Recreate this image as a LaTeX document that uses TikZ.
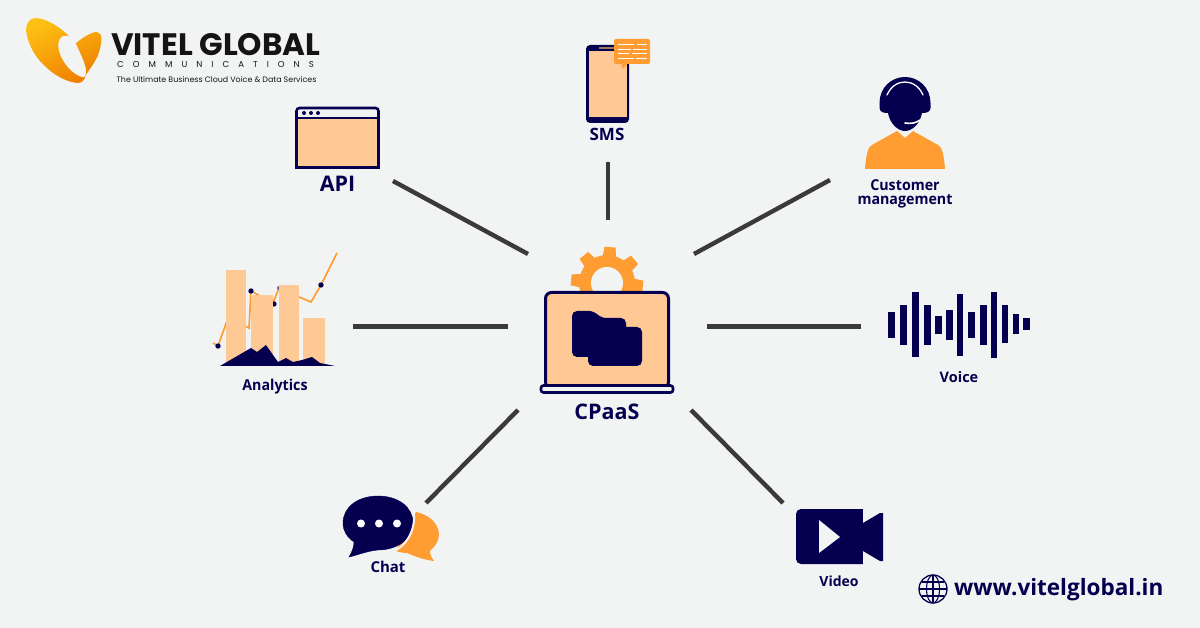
\documentclass[tikz,border=0pt]{standalone}
\usepackage{fontspec}
\setmainfont{Open Sans}
\newfontfamily\narrowfont[FakeStretch=0.95]{Open Sans}
\newfontfamily\logofont{Poppins}
\newfontfamily\logospaced[LetterSpace=105]{Poppins}
\definecolor{navy}{HTML}{04004F}
\definecolor{peach}{HTML}{FEC994}
\definecolor{amber}{HTML}{FF9D33}
\definecolor{paper}{HTML}{F2F4F4}
\definecolor{wire}{HTML}{3A3A3A}
\definecolor{logoa}{HTML}{FDC114}
\definecolor{logob}{HTML}{EF7F00}
\tikzset{
    edgen/.style = {line width=4.4pt,wire},
    mylabel/.style = {inner sep=0pt,align=center,text=navy,font=\bfseries\fontsize{15}{15}\selectfont},
    mylabelb/.style = {mylabel,font=\bfseries\fontsize{21.5}{21.5}\selectfont},
    mylabeln/.style = {mylabel,font=\narrowfont\bfseries\fontsize{15}{15}\selectfont},
    mylogo/.style = {inner sep=0pt,text=black!92},
    peachbox/.style = {fill=peach},
    navybox/.style = {draw=navy,line width=2.6pt},
}

\begin{document}
\begin{tikzpicture}[x=1pt,y=-1pt]
\fill[paper] (0,0) rectangle (1200,628);
\useasboundingbox (0,0) rectangle (1200,628);
%
% logo
\path[left color=logoa,right color=logob,shading angle=25]
  (26,30) .. controls (27,18) and (34,17) .. (42,19)
  .. controls (52,22) and (62,29) .. (70,37)
  -- (75,44) .. controls (82,38) and (91,32) .. (97,32)
  .. controls (103,33) and (102,42) .. (99,52)
  .. controls (96,62) and (90,68) .. (86,75)
  .. controls (84,81) and (82,83) .. (77,83)
  .. controls (62,81) and (50,72) .. (40,61)
  .. controls (32,52) and (27,40) .. (26,30) -- cycle;
\fill[paper] (70,36) -- (76,44) .. controls (81,55) and (86,65) .. (86,71)
  .. controls (86,76) and (85,78) .. (82,77)
  .. controls (72,74) and (64,64) .. (60,54)
  .. controls (57,46) and (58,38) .. (63,36) -- cycle;
\node[mylogo,anchor=west,font=\logofont\bfseries\fontsize{31}{31}\selectfont] (vitel) at (111,45) {VITEL GLOBAL};
\node[mylogo,anchor=west,font=\logospaced\fontsize{8.6}{9}\selectfont] (comm) at (117,64) {COMMUNICATIONS};
\node[mylogo,anchor=west,font=\logofont\fontsize{7.9}{9}\selectfont] (tagline) at (116.5,80) {The Ultimate Business Cloud Voice \& Data Services};
%
% spokes
\coordinate (apia) at (393,181);
\coordinate (apib) at (528,254);
\coordinate (smsa) at (608,162);
\coordinate (smsb) at (608,220);
\coordinate (cusa) at (830,180);
\coordinate (cusb) at (694,254);
\coordinate (anaa) at (353,326.5);
\coordinate (anab) at (508,326.5);
\coordinate (voia) at (861,326.5);
\coordinate (voib) at (707,326.5);
\coordinate (chaa) at (426,503);
\coordinate (chab) at (518,410);
\coordinate (vida) at (783,503);
\coordinate (vidb) at (691,410);
\draw[edgen] (apia) -- (apib);
\draw[edgen] (smsa) -- (smsb);
\draw[edgen] (cusa) -- (cusb);
\draw[edgen] (anaa) -- (anab);
\draw[edgen] (voia) -- (voib);
\draw[edgen] (chaa) -- (chab);
\draw[edgen] (vida) -- (vidb);
%
% gear behind the laptop
\fill[amber] (607,283) circle (28);
\foreach \ang in {40,85,130,175,220,265,310,355}
  \fill[amber,shift={(607,283)},rotate=\ang] (20,-7.5) -- (36,-5.5) -- (36,5.5) -- (20,7.5) -- cycle;
\fill[paper] (607,283) circle (16);
%
% laptop
\draw[navybox,peachbox,line width=3pt,rounded corners=6pt] (545.5,292.5) -- (668.5,292.5) -- (668.5,388) -- (545.5,388) -- cycle;
\draw[navy,line width=2.6pt,fill=paper,rounded corners=2.5pt] (541,385.5) rectangle (673,392.5);
\fill[navy,rounded corners=5pt] (572,311) -- (594,311) -- (601,318) -- (626,318) -- (626,357) -- (572,357) -- cycle;
\fill[navy,rounded corners=5pt] (588,327) -- (642,327) -- (642,366) -- (588,366) -- cycle;
\node[mylabelb] (cpaas) at (607,412) {CPaaS};
%
% window
\draw[navybox,fill=paper,rounded corners=3pt] (296.5,108) -- (378.5,108) -- (378.5,130) -- (296.5,130) -- cycle;
\draw[navybox,peachbox] (296.5,118) rectangle (378.5,167.5);
\foreach \bx in {304,311,318}
  \fill[navy] (\bx,113) circle (2);
\node[mylabelb] (api) at (337.5,184) {API};
%
% phone
\fill[navy,rounded corners=4pt] (586,45) rectangle (629,123);
\fill[peach] (588.5,51) rectangle (627,117);
\fill[black!40!peach] (599,47.5) rectangle (614,49);
\fill[amber,rounded corners=2pt] (614,39) rectangle (650,64);
\fill[amber] (621,63) -- (623,69) -- (628,63) -- cycle;
\foreach \xa/\xb/\ya in {618/634/45,637/647/45,618/631/49.5,633/647/49.5,618/629/54,632/647/54,618/634/58.5,636/647/58.5}
  \draw[white,line width=1pt] (\xa,\ya) -- (\xb,\ya);
\node[mylabel,font=\bfseries\fontsize{17}{17}\selectfont] (sms) at (607,134) {SMS};
%
% agent
\fill[amber] (865,169) .. controls (866,155) and (868,147) .. (872,145)
  -- (897,131) -- (905,138) -- (913,131) -- (938,145)
  .. controls (942,147) and (944,155) .. (945,169) -- cycle;
\fill[navy] (879.5,103) .. controls (879.5,88) and (891,77) .. (905,77)
  .. controls (919,77) and (930.5,88) .. (930.5,103) -- (930.5,108)
  .. controls (930,112) and (927,113) .. (922,113)
  .. controls (920,124) and (912,131) .. (905,131)
  .. controls (898,131) and (890,124) .. (888,113)
  .. controls (883,113) and (880,112) .. (879.5,108) -- cycle;
\draw[white,line width=1.3pt,line cap=round] (887,95) .. controls (891,86) and (898,82) .. (905,82) .. controls (912,82) and (919,86) .. (923,95);
\draw[white,line width=1.6pt,line cap=round] (905,123) .. controls (911,124) and (916,123) .. (920,120);
\node[mylabeln] (customer) at (905,194) {Customer\\[-0.3pt]management};
%
% chart
\draw[amber,line width=1.7pt] (213,343) -- (218,346) -- (228,318) -- (249,328) -- (251,291)
  -- (273,303) -- (279,288) -- (299,297) -- (311,302) -- (321,285) -- (337,253);
\fill[navy] (218,346) circle (2.7);
\fill[navy] (251,291) circle (2.7);
\fill[navy] (274,304) circle (2.7);
\fill[navy!60] (279,288) circle (2);
\fill[navy] (321,285) circle (2.7);
\foreach \bx/\bw/\bt in {226/20/270,251/22/295,279/20/285,303/22/318}
  \fill[peach] (\bx,\bt) rectangle (\bx+\bw,366);
\fill[navy] (220,366) -- (251,348) -- (257,352) -- (266,345) -- (278,362) -- (286,358) -- (293,362) -- (302,360) -- (312,357) -- (320,363) -- (335,366) -- cycle;
\node[mylabeln] (analytics) at (275,387) {Analytics};
%
% waveform
\foreach \bx/\bt/\bb in {888.3/312.3/337.7,900/305/345,912.3/292.3/356.7,924/305/345,935/315.7/334.3,946/310/340,956.7/294.3/356,968.3/312.3/337.7,980/305/345,990.7/292.3/357.7,1001.7/305/343.3,1012.7/314.3/333.7,1023.3/318.3/330}
  \fill[navy] (\bx,\bt) rectangle (\bx+6.6,\bb);
\node[mylabel,font=\bfseries\fontsize{14.5}{15}\selectfont] (voice) at (959,377) {Voice};
%
% speech bubbles
\fill[amber] (416,512) .. controls (430,515) and (439,524) .. (439,535)
  .. controls (439,542) and (434,547) .. (430,551)
  .. controls (430,555) and (432,558) .. (434,561)
  .. controls (424,560) and (414,556) .. (407,553)
  .. controls (403,553) and (399,552) .. (396,551)
  -- (405,530) -- cycle;
\draw[navy,fill=navy] (378,496) .. controls (398,496) and (413,507) .. (413,523)
  .. controls (413,539) and (397,550) .. (378,550)
  .. controls (367,551) and (358,555) .. (349,557)
  .. controls (352,552) and (354,547) .. (354,542)
  .. controls (347,537) and (343,531) .. (343,523)
  .. controls (343,507) and (358,496) .. (378,496) -- cycle;
\draw[paper,line width=2pt] (413.5,510) .. controls (417,530) and (405,548) .. (392,551.5);
\foreach \bx in {361,379,397}
  \fill[white] (\bx,523.5) circle (4);
\node[mylabel] (chat) at (388,566.5) {Chat};
%
% camera
\fill[navy,rounded corners=5pt] (796,509) -- (870,509) -- (870,564) -- (796,564) -- cycle;
\fill[paper] (863,505) rectangle (872,523);
\fill[paper] (863,551) rectangle (872,568);
\fill[navy] (863,523) -- (880,513) -- (883,513) -- (883,561) -- (880,561) -- (863,551) -- cycle;
\fill[paper] (819,520) -- (840,537) -- (819,553) -- cycle;
\node[mylabel,font=\bfseries\fontsize{14}{14}\selectfont] (video) at (839,581) {Video};
%
% web address
\draw[navy,line width=1.3pt] (933,589) circle (14);
\draw[navy,line width=1.1pt] (933,589) ellipse (6.5 and 14);
\draw[navy,line width=1.1pt] (933,575) -- (933,603);
\draw[navy,line width=1.1pt] (919,589) -- (947,589);
\draw[navy,line width=1.1pt] (922,582) -- (944,582);
\draw[navy,line width=1.1pt] (922,596) -- (944,596);
\node[mylabel,anchor=west,font=\bfseries\fontsize{22.5}{23}\selectfont] (web) at (954,589.5) {www.vitelglobal.in};
\end{tikzpicture}
\end{document}
